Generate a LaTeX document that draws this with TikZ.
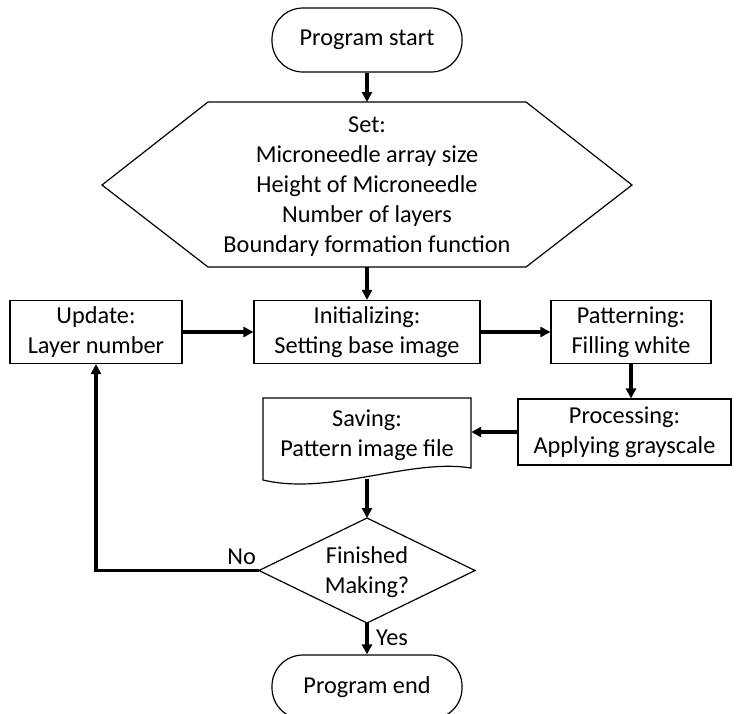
\documentclass[tikz,border=0pt]{standalone}
\usepackage{fontspec}
\setmainfont{Carlito}
\usetikzlibrary{arrows.meta}
\begin{document}
\begin{tikzpicture}[x=1pt,y=-1pt,
  font=\fontsize{24.3}{30}\selectfont,
  outline/.style={draw, line width=1.2pt},
  box/.style={outline, rectangle, align=center, inner sep=0pt, minimum height=63pt},
  term/.style={outline, rectangle, rounded corners=31pt, inner sep=0pt,
    minimum width=190pt, minimum height=64pt},
  plain/.style={align=center, inner sep=0pt},
  arr/.style={line width=3.1pt, -{Triangle[length=10pt,width=10pt]}}
]
\useasboundingbox (0,0) rectangle (738,713);

% start terminal
\node[term] (start) at (367,40) {Program start};

% parameter set (hexagon)
\coordinate (settop) at (367,102);
\coordinate (setbot) at (367,267);
\draw[outline, line join=miter] (102,185) -- (208,102) -- (526,102) -- (632,185)
  -- (526,267) -- (208,267) -- cycle;
\node[plain] (set) at (367,187) {Set:\\Microneedle array size\\Height of Microneedle\\Number of layers\\Boundary formation function};

% main row
\node[box, minimum width=172pt] (update) at (96,332) {Update:\\Layer number};
\node[box, minimum width=226pt] (init) at (367,332) {Initializing:\\Setting base image};
\node[box, minimum width=160pt] (pattern) at (631,332) {Patterning:\\Filling white};

% processing and saving
\node[box, minimum width=213pt, minimum height=66pt] (process) at (624.5,432) {Processing:\\Applying grayscale};
\node[plain, minimum width=208pt] (save) at (367,435) {Saving:\\Pattern image file};
\draw[outline, line join=miter] (263,398) -- (471,398) -- (471,468)
  .. controls (410,458) and (330,496) .. (263,480) -- cycle;
\coordinate (savebot) at (367,479);

% decision
\coordinate (dtop) at (367,518);
\coordinate (dbot) at (367,623);
\coordinate (dleft) at (259,570.5);
\coordinate (dright) at (475,570.5);
\draw[outline, line join=miter] (dleft) -- (dtop) -- (dright) -- (dbot) -- cycle;
\node[plain] (dec) at (367,572) {Finished\\Making?};

% end terminal
\node[term] (end) at (367,687) {Program end};

% connectors
\draw[arr] (start.south) -- (settop);
\draw[arr] (setbot) -- (init.north);
\draw[arr] (update.east) -- (init.west);
\draw[arr] (init.east) -- (pattern.west);
\draw[arr] (pattern.south) -- (pattern.south |- process.north);
\draw[arr] (process.west) -- (process.west -| save.east);
\draw[arr] (savebot) -- (dtop);
\draw[arr, line width=3.3pt] (dleft) -| (update.south);
\draw[arr] (dbot) -- (end.north);

% branch labels
\node[plain, anchor=south east] (nolbl) at (256,565) {No};
\node[plain, anchor=west] (yeslbl) at (376,638) {Yes};
\end{tikzpicture}
\end{document}
